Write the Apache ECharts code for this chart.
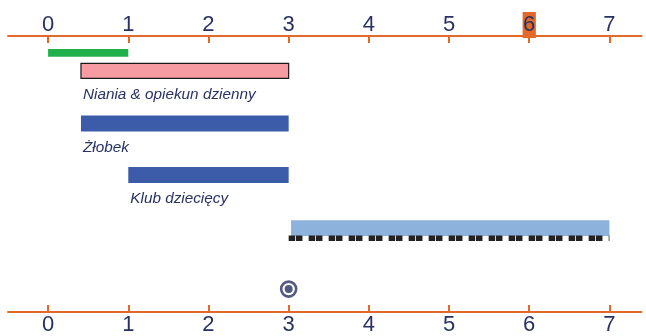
<!DOCTYPE html>
<html>
<head>
<meta charset="utf-8">
<style>
  html, body { margin: 0; padding: 0; background: #fff; }
  #chart { width: 646px; height: 336px; }
</style>
<script src="https://cdn.jsdelivr.net/npm/echarts@6/dist/echarts.min.js"></script>
</head>
<body>
<div id="chart"></div>
<script>
// os wieku (lata)
const ticks = [0, 1, 2, 3, 4, 5, 6, 7];
const highlightTick = 6;
const axisMin = -0.5;
const axisMax = 7.4;

// pasy: od, do, wiersz
const names = ["", "Niania & opiekun dzienny", "Żłobek", "Klub dziecięcy", "", ""];
const starts = [0, 0.41, 0.41, 1, 3.03, 3];
const ends = [1, 3, 3, 3, 7, 7];
const rows = [0.61, 1.26, 3.17, 5.04, 6.96, 7.33];
const kinds = ["green", "pink", "blue", "blue", "light", "dash"];

// znacznik
const markX = [3];
const markRow = [9.17];

const orange = "#e2692a";
const navy = "#283163";
const styles = {
  green: { fill: "#20b04b", h: 7.7 },
  pink: { fill: "#f59ba1", h: 15, stroke: "#1a1a1a" },
  blue: { fill: "#3c5ba8", h: 16 },
  light: { fill: "#8db3dd", h: 15.7 },
  dash: { fill: "#222", h: 5.5 },
};

const chart = echarts.init(document.getElementById("chart"));

const fontFam = "'Liberation Sans', Arial, sans-serif";

const axisCommon = {
  type: "value",
  min: axisMin,
  max: axisMax,
  splitLine: { show: false },
  axisLine: { show: true, lineStyle: { color: orange, width: 2 } },
  axisTick: {
    show: true,
    inside: true,
    length: 7,
    customValues: ticks,
    lineStyle: { color: orange, width: 2 },
  },
};

const barData = starts.map((s, i) => [s, ends[i], rows[i], i]);

chart.setOption({
  animation: false,
  grid: { left: 8, right: 4.5, top: 36, bottom: 22.3 },
  xAxis: [
    Object.assign({}, axisCommon, {
      position: "top",
      axisLabel: {
        margin: 0,
        customValues: ticks,
        formatter: (v) => (v === highlightTick ? "{hl|" + v + "}" : "{n|" + v + "}"),
        rich: {
          n: { fontFamily: fontFam, fontSize: 22, lineHeight: 22, color: navy, padding: [2, 0.5, 2, 0.5] },
          hl: {
            fontFamily: fontFam, fontSize: 22, lineHeight: 22, color: navy,
            padding: [2, 0.5, 2, 0.5], backgroundColor: orange,
          },
        },
      },
    }),
    Object.assign({}, axisCommon, {
      position: "bottom",
      axisLabel: {
        margin: 2,
        customValues: ticks,
        fontFamily: fontFam,
        fontSize: 22,
        lineHeight: 22,
        color: navy,
      },
    }),
  ],
  yAxis: { type: "value", inverse: true, min: 0, max: 10, show: false },
  series: [
    {
      type: "custom",
      xAxisIndex: 0,
      data: barData,
      renderItem: (params, api) => {
        const i = api.value(3);
        const st = styles[kinds[i]];
        const p0 = api.coord([api.value(0), api.value(2)]);
        const p1 = api.coord([api.value(1), api.value(2)]);
        const children = [];
        if (kinds[i] === "dash") {
          children.push({
            type: "line",
            shape: { x1: p0[0], y1: p0[1], x2: p1[0], y2: p1[1] },
            style: { stroke: st.fill, lineWidth: st.h, lineDash: [6.5, 0.8, 6.5, 6.2] },
          });
        } else {
          children.push({
            type: "rect",
            shape: { x: p0[0], y: p0[1] - st.h / 2, width: p1[0] - p0[0], height: st.h },
            style: st.stroke
              ? { fill: st.fill, stroke: st.stroke, lineWidth: 1.2 }
              : { fill: st.fill },
          });
        }
        if (names[i]) {
          children.push({
            type: "text",
            style: {
              text: names[i],
              x: p0[0] + 2,
              y: p0[1] + 24,
              verticalAlign: "middle",
              fontFamily: fontFam,
              fontStyle: "italic",
              fontSize: 15.3,
              fill: navy,
            },
          });
        }
        return { type: "group", children: children };
      },
    },
    {
      type: "scatter",
      xAxisIndex: 0,
      data: markX.map((x, i) => [x, markRow[i]]),
      symbol: "circle",
      symbolSize: 15,
      itemStyle: { color: "#fff", borderColor: navy, borderWidth: 2.6 },
      z: 3,
    },
    {
      type: "scatter",
      xAxisIndex: 0,
      data: markX.map((x, i) => [x, markRow[i]]),
      symbol: "circle",
      symbolSize: 8,
      itemStyle: { color: navy },
      z: 4,
    },
  ],
});
</script>
</body>
</html>
